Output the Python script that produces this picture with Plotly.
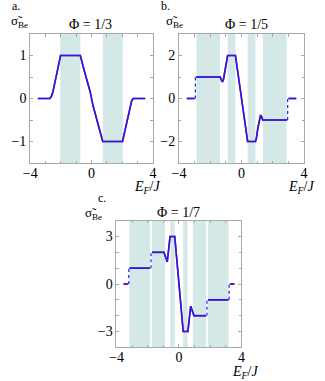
import plotly.graph_objects as go

# panel a: Phi = 1/3
a_gaps = [(-2.04, -0.73), (0.73, 2.04)]
a_x = [-3.5, -2.72, -2.62, -2.52, -2.02, -0.73, -0.5, -0.1, 0.1, 0.5, 0.73, 2.02, 2.52, 2.62, 2.72, 3.5]
a_y = [0, 0, 0.05, 0.15, 1, 1, 0.68, 0.17, -0.17, -0.68, -1, -1, -0.15, -0.05, 0, 0]

# panel b: Phi = 1/5
b_gaps = [(-2.88, -1.37), (-0.89, -0.39), (0.39, 0.89), (1.37, 2.88)]
b_x = [-3.5, -3.0, None, -2.92, -1.36, -1.3, -1.22, -1.15, -1.05, -0.95, -0.89, -0.39,
       0.39, 0.89, 0.95, 1.05, 1.15, 1.22, 1.3, 1.36, 2.92, None, 3.0, 3.5]
b_y = [0, 0, None, 1, 1, 0.88, 0.77, 0.9, 1.35, 1.85, 2, 2,
       -2, -2, -1.85, -1.35, -0.9, -0.77, -0.88, -1, -1, None, 0, 0]
b_jx = [-2.95, -2.95, None, 2.95, 2.95]
b_jy = [0, 1, None, -1, 0]

# panel c: Phi = 1/7
c_gaps = [(-3.17, -1.85), (-1.73, -0.89), (-0.55, -0.27), (0.27, 0.55), (0.89, 1.73), (1.85, 3.17)]
c_x = [-3.55, -3.25, None, -3.17, -1.85, None, -1.73, -0.96, -0.75, -0.57, -0.27,
       0.27, 0.57, 0.75, 0.96, 1.73, None, 1.85, 3.17, None, 3.25, 3.55]
c_y = [0, 0, None, 1, 1, None, 2, 2, 1.4, 3, 3,
       -3, -3, -1.4, -2, -2, None, -1, -1, None, 0, 0]
c_jx = [-3.21, -3.21, None, -1.79, -1.79, None, 1.79, 1.79, None, 3.21, 3.21]
c_jy = [0, 1, None, 1, 2, None, -2, -1, None, -1, 0]

panels = [
    ("x", "y", a_gaps, a_x, a_y, None, None, [-1.5, 1.5], [-1, 0, 1], 0.5),
    ("x2", "y2", b_gaps, b_x, b_y, b_jx, b_jy, [-3, 3], [-2, 0, 2], 1),
    ("x3", "y3", c_gaps, c_x, c_y, c_jx, c_jy, [-4, 4], [-3, 0, 3], 1),
]
domains = [
    ([24 / 325, 151 / 325], [1 - 163 / 381, 1 - 34 / 381]),
    ([178 / 325, 307.5 / 325], [1 - 163 / 381, 1 - 34 / 381]),
    ([113.3 / 325, 242.7 / 325], [1 - 347.3 / 381, 1 - 220.7 / 381]),
]

FONT = "Liberation Serif, Times New Roman, serif"
BLUE = "#1a1aff"
RED = "#c8102e"
SHADE = "#d5e8e8"
FRAME = "#a8a8a8"

fig = go.Figure()
shapes = []
for i, (xr, yr, gaps, xs, ys, jx, jy, yrange, yticks, ydt) in enumerate(panels):
    for g0, g1 in gaps:
        shapes.append(dict(type="rect", xref=xr, yref=yr + " domain", x0=g0, x1=g1, y0=0, y1=1,
                           fillcolor=SHADE, line_width=0, layer="below"))
    fig.add_trace(go.Scatter(x=xs, y=ys, xaxis=xr, yaxis=yr, mode="lines",
                             line=dict(color=RED, width=1.7), hoverinfo="skip"))
    fig.add_trace(go.Scatter(x=xs, y=ys, xaxis=xr, yaxis=yr, mode="lines",
                             line=dict(color=BLUE, width=1.5)))
    if jx is not None:
        fig.add_trace(go.Scatter(x=jx, y=jy, xaxis=xr, yaxis=yr, mode="lines",
                                 line=dict(color=BLUE, width=1.2, dash="dot")))
    n = "" if i == 0 else str(i + 1)
    xd, yd = domains[i]
    fig.layout["xaxis" + n] = dict(
        domain=xd, range=[-4, 4], anchor=yr, tickvals=[-4, 0, 4], ticks="inside",
        ticklen=3, tickcolor=FRAME, showline=True, linecolor=FRAME, linewidth=1,
        mirror="ticks", showgrid=False, zeroline=False, ticklabelstandoff=-3,
        minor=dict(dtick=1, ticks="inside", ticklen=2.5, tickcolor=FRAME),
        tickfont=dict(family=FONT, size=14, color="black"))
    fig.layout["yaxis" + n] = dict(
        domain=yd, range=yrange, anchor=xr, tickvals=yticks, ticks="inside",
        ticklen=3, tickcolor=FRAME, showline=True, linecolor=FRAME, linewidth=1,
        mirror="ticks", showgrid=False, zeroline=False,
        minor=dict(dtick=ydt, ticks="inside", ticklen=2.5, tickcolor=FRAME),
        tickfont=dict(family=FONT, size=14, color="black"))

labels = [
    ("a.", 3, 6, "left", 12), ("b.", 157, 6, "left", 12), ("c.", 92, 198, "left", 12),
    ("σ̃<sub>Be</sub>", 2, 21, "left", 13), ("σ̃<sub>Be</sub>", 163, 21, "left", 13),
    ("σ̃<sub>Be</sub>", 79, 213, "left", 13),
    ("Φ = 1/3", 86, 24, "center", 14), ("Φ = 1/5", 248, 24, "center", 14),
    ("Φ = 1/7", 177, 212, "center", 14),
    ("<i>E<sub>F</sub></i>/<i>J</i>", 145, 188, "center", 14),
    ("<i>E<sub>F</sub></i>/<i>J</i>", 304, 187, "center", 14),
    ("<i>E<sub>F</sub></i>/<i>J</i>", 246, 372, "center", 14),
]
annotations = [dict(text=t, x=px / 325, y=1 - py / 381, xref="paper", yref="paper",
                    xanchor=anc, yanchor="middle", showarrow=False,
                    font=dict(family=FONT, size=s, color="black"))
               for t, px, py, anc, s in labels]

fig.update_layout(width=325, height=381, margin=dict(l=0, r=0, t=0, b=0),
                  paper_bgcolor="white", plot_bgcolor="white", showlegend=False,
                  shapes=shapes, annotations=annotations)
# the page's default body margin would shift the picture by 8px
fig.write_html("out.html", config={"displayModeBar": False},
               post_script="document.body.style.margin='0px';")
